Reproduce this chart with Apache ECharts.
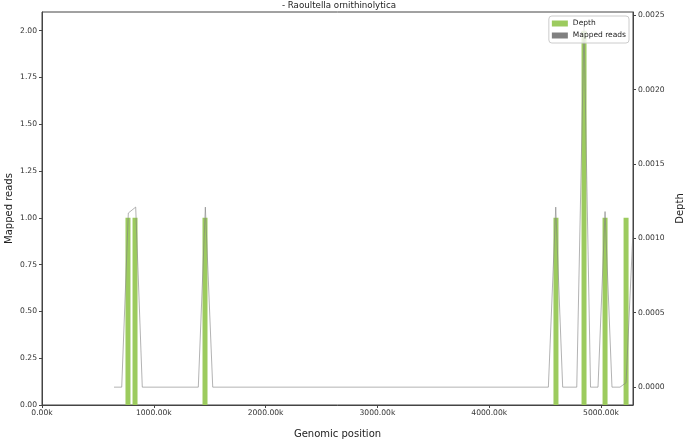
<!DOCTYPE html>
<html>
<head>
<meta charset="utf-8">
<script src="https://cdn.jsdelivr.net/npm/echarts@6/dist/echarts.min.js"></script>
<style>html,body{margin:0;padding:0;background:#fff}#c{width:685px;height:442px}</style>
</head>
<body>
<div id="c"></div>
<script>
// Green bars (left axis, "Mapped reads")
var barPositions = [769000, 832000, 1458000, 4597000, 4848000, 5036000, 5224000];
var barValues = [1, 1, 1, 1, 2, 1, 1];
// Gray line (right axis, "Depth")
var linePositions = [644000, 713000, 772000, 838000, 897000, 1398000, 1461000, 1527000, 4529000, 4595000, 4657000, 4783000, 4848000, 4906000, 4973000, 5036000, 5098000, 5170000, 5224000, 5286000];
var lineValues = [0, 0, 0.00117, 0.00121, 0, 0, 0.00121, 0, 0, 0.00121, 0, 0, 0.00243, 0, 0, 0.00118, 0, 0, 0.00003, 0.00105];
// Tick labels
var xTicks = [0, 1000000, 2000000, 3000000, 4000000, 5000000];
var leftTicks = [0, 0.25, 0.5, 0.75, 1.0, 1.25, 1.5, 1.75, 2.0];
var rightTicks = [0, 0.0005, 0.001, 0.0015, 0.002, 0.0025];

var FONT = 'DejaVu Sans';
var chart = echarts.init(document.getElementById('c'), null, {renderer: 'canvas'});
var axisLineStyle = {color: '#444', width: 1};
chart.setOption({
  animation: false,
  backgroundColor: '#fff',
  title: {
    text: '- Raoultella ornithinolytica',
    left: 339, top: 1, textAlign: 'center', padding: 0,
    textStyle: {fontFamily: FONT, fontSize: 8.7, fontWeight: 'normal', color: '#222'}
  },
  grid: {left: 42, right: 52, top: 12, bottom: 37, outerBoundsMode: 'none', containLabel: false,
    show: true, borderColor: '#444', borderWidth: 1, backgroundColor: 'transparent'},
  legend: {
    orient: 'vertical', right: 56, top: 16,
    padding: [3, 3, 3, 3], itemGap: 3, itemWidth: 16, itemHeight: 6,
    backgroundColor: 'rgba(255,255,255,0.8)', borderColor: '#ccc', borderWidth: 1, borderRadius: 3,
    textStyle: {fontFamily: FONT, fontSize: 7.5, color: '#222', lineHeight: 9},
    data: [
      {name: 'Depth', icon: 'rect'},
      {name: 'Mapped reads', icon: 'rect', itemStyle: {color: '#808080'}, lineStyle: {width: 0}}
    ],
    z: 10
  },
  xAxis: {
    type: 'value', min: 0, max: 5286000,
    name: 'Genomic position', nameLocation: 'middle', nameGap: 24,
    nameTextStyle: {fontFamily: FONT, fontSize: 10, color: '#222'},
    axisLine: {show: true, lineStyle: axisLineStyle},
    axisTick: {show: true, length: 3, lineStyle: axisLineStyle, customValues: xTicks},
    axisLabel: {fontFamily: FONT, fontSize: 7.6, color: '#333', margin: 4, customValues: xTicks,
      formatter: function (v) { return (v / 1000).toFixed(2) + 'k'; }},
    splitLine: {show: false}
  },
  yAxis: [
    {
      type: 'value', min: 0, max: 2.1, position: 'left',
      name: 'Mapped reads', nameLocation: 'middle', nameGap: 28, nameRotate: 90, nameMoveOverlap: false,
      nameTextStyle: {fontFamily: FONT, fontSize: 10, color: '#222'},
      axisLine: {show: true, lineStyle: axisLineStyle},
      axisTick: {show: true, length: 3, lineStyle: axisLineStyle, customValues: leftTicks},
      axisLabel: {fontFamily: FONT, fontSize: 7.6, color: '#333', margin: 5, customValues: leftTicks,
        formatter: function (v) { return v.toFixed(2); }},
      splitLine: {show: false}
    },
    {
      type: 'value', min: -0.00012, max: 0.002521, position: 'right',
      name: 'Depth', nameLocation: 'middle', nameGap: 40, nameRotate: 90,
      nameTextStyle: {fontFamily: FONT, fontSize: 10, color: '#222'},
      axisLine: {show: true, lineStyle: axisLineStyle},
      axisTick: {show: true, length: 3, lineStyle: axisLineStyle, customValues: rightTicks},
      axisLabel: {fontFamily: FONT, fontSize: 7.6, color: '#333', margin: 5, customValues: rightTicks,
        formatter: function (v) { return v.toFixed(4); }},
      splitLine: {show: false}
    }
  ],
  series: [
    {
      name: 'Depth', type: 'bar', yAxisIndex: 0, barWidth: 5,
      itemStyle: {color: '#9ccb5e'},
      data: barPositions.map(function (x, i) { return [x, barValues[i]]; })
    },
    {
      name: 'Mapped reads', type: 'line', yAxisIndex: 1,
      showSymbol: false, symbol: 'none', clip: true,
      itemStyle: {color: '#808080'},
      lineStyle: {color: 'rgba(128,128,128,0.6)', width: 1},
      data: linePositions.map(function (x, i) { return [x, lineValues[i]]; })
    }
  ]
});
</script>
</body>
</html>
